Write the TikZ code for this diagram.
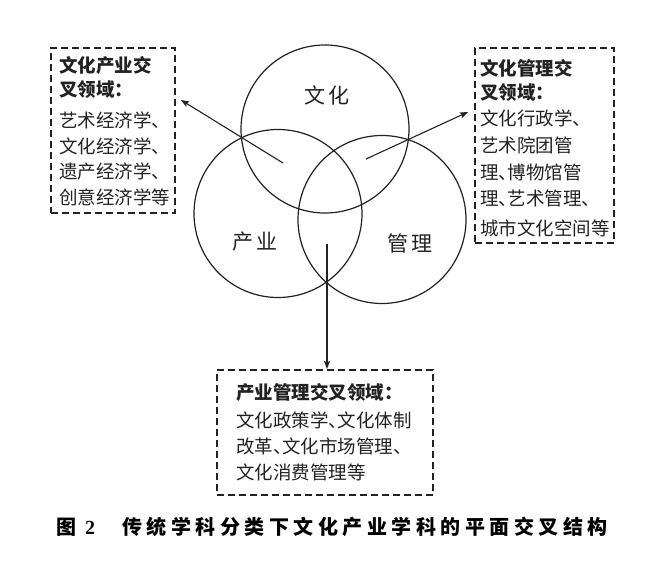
\documentclass[tikz,border=0pt]{standalone}
\usepackage{fontspec}
\setmainfont{Liberation Serif}
\newfontfamily\cjk{Noto Sans CJK SC}
\usetikzlibrary{arrows.meta}
\definecolor{ink}{HTML}{222222}
\newcommand\dun{\makebox[0.5em][l]{、}}
\tikzset{
  ring/.style={draw=ink, line width=1.2pt, circle, minimum size=168pt, inner sep=0pt},
  dbox/.style={draw=ink, line width=1.2pt, dash pattern=on 7pt off 4pt, rectangle, inner sep=0pt},
  boxtxt/.style={anchor=west, inner sep=0pt, text=ink, font=\cjk\fontsize{18.5}{20}\selectfont},
  boxhead/.style={boxtxt, font=\cjk\bfseries\fontsize{18.5}{20}\selectfont},
  lab/.style={inner sep=0pt, text=ink, font=\cjk\fontsize{21}{22}\selectfont},
  arr/.style={draw=ink, line width=1.1pt, -{Stealth[length=8pt,width=6pt,inset=1.5pt]}},
  captxt/.style={anchor=west, inner sep=0pt, text=black, font=\cjk\bfseries\fontsize{20}{22}\selectfont}
}
\begin{document}
\begin{tikzpicture}[x=1pt,y=-1pt]
\useasboundingbox (0,0) rectangle (660,570);
% circles
\node[ring] (culture) at (325,129) {};
\node[ring] (industry) at (278,213.5) {};
\node[ring] (manage) at (382,219.5) {};
\node[lab] (lc) at (327,95) {文\hspace{3pt}化};
\node[lab] (li) at (255,242) {产\hspace{3pt}业};
\node[lab] (lm) at (410,243) {管\hspace{3pt}理};
% left box
\node[dbox, minimum width=124pt, minimum height=165pt] (boxL) at (113,130.5) {};
\node[boxhead] (l1) at (59,65) {文化产业交};
\node[boxhead] (l2) at (59,90) {叉领域：};
\node[boxtxt] (l3) at (59,120) {艺术经济学、};
\node[boxtxt] (l4) at (59,146) {文化经济学、};
\node[boxtxt] (l5) at (59,171) {遗产经济学、};
\node[boxtxt] (l6) at (59,197) {创意经济学等};
% right box
\node[dbox, minimum width=139pt, minimum height=195pt] (boxR) at (544.5,145.5) {};
\node[boxhead] (r1) at (480,68) {文化管理交};
\node[boxhead] (r2) at (480,93) {叉领域：};
\node[boxtxt] (r3) at (480,118) {文化行政学、};
\node[boxtxt] (r4) at (480,145) {艺术院团管};
\node[boxtxt] (r5) at (480,172) {理\dun 博物馆管};
\node[boxtxt] (r6) at (480,198) {理\dun 艺术管理、};
\node[boxtxt] (r7) at (480,228) {城市文化空间等};
% bottom box
\node[dbox, minimum width=216pt, minimum height=125pt] (boxB) at (325,432.5) {};
\node[boxhead] (b1) at (236,392) {产业管理交叉领域：};
\node[boxtxt] (b2) at (236,420) {文化政策学\dun 文化体制};
\node[boxtxt] (b3) at (236,446) {改革\dun 文化市场管理、};
\node[boxtxt] (b4) at (236,472) {文化消费管理等};
% arrows
\coordinate (aLs) at (283,163);
\coordinate (aLe) at (181,100);
\coordinate (aRs) at (366,159);
\coordinate (aRe) at (468,112);
\coordinate (aBs) at (327,244);
\coordinate (aBe) at (327,369);
\draw[arr] (aLs) -- (aLe);
\draw[arr] (aRs) -- (aRe);
\draw[arr] (aBs) -- (aBe);
% caption
\node[captxt] (c1) at (56,527) {图\hspace{9pt}{\rmfamily\bfseries 2}};
\node[captxt] (c2) at (122,527) {传\hspace{4.5pt}统\hspace{4.5pt}学\hspace{4.5pt}科\hspace{4.5pt}分\hspace{4.5pt}类\hspace{4.5pt}下\hspace{4.5pt}文\hspace{4.5pt}化\hspace{4.5pt}产\hspace{4.5pt}业\hspace{4.5pt}学\hspace{4.5pt}科\hspace{4.5pt}的\hspace{4.5pt}平\hspace{4.5pt}面\hspace{4.5pt}交\hspace{4.5pt}叉\hspace{4.5pt}结\hspace{4.5pt}构};
\end{tikzpicture}
\end{document}
